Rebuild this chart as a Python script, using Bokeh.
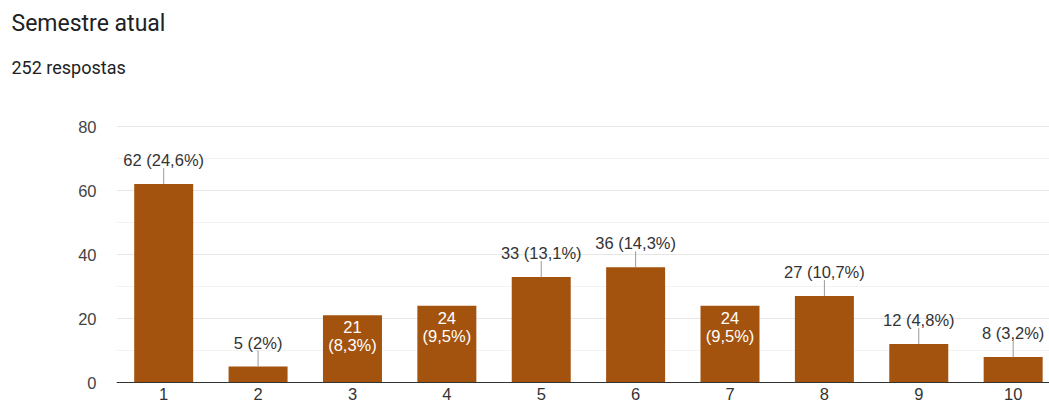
from bokeh.plotting import figure
from bokeh.models import ColumnDataSource, Range1d, FixedTicker, Span, Title
from bokeh.core.properties import value
from bokeh.embed import file_html
from bokeh.resources import INLINE

categories = [1, 2, 3, 4, 5, 6, 7, 8, 9, 10]
counts = [62, 5, 21, 24, 33, 36, 24, 27, 12, 8]
percents = ["24,6%", "2%", "8,3%", "9,5%", "13,1%", "14,3%", "9,5%", "10,7%", "4,8%", "3,2%"]
inside = [False, False, True, True, False, False, True, False, False, False]
y_ticks = [0, 20, 40, 60, 80]
y_minor = [10, 30, 50, 70]

BAR = "#a3530e"
FONT = "Liberation Sans"
FS = "16.5px"

p = figure(width=1049, height=406, output_backend="svg", toolbar_location=None,
           x_range=Range1d(0.5, 10.385), y_range=Range1d(-7.5, 88.125),
           min_border_left=116, min_border_right=0, min_border_bottom=0, min_border_top=100)
p.outline_line_color = None
p.background_fill_color = "white"
p.border_fill_color = "white"

# spacer between subtitle and plot frame
p.add_layout(Title(text=" ", text_font_size="6px", standoff=0, offset=-105), "above")
p.add_layout(Title(text="252 respostas", text_font="Roboto", text_font_size="18px",
                   text_color="#202124", text_font_style="normal", offset=-105, standoff=29), "above")
p.add_layout(Title(text="Semestre atual", text_font="Roboto", text_font_size="23px",
                   text_color="#202124", text_font_style="normal", offset=-105, standoff=8), "above")

p.xaxis.visible = False
p.xgrid.grid_line_color = None
p.yaxis.ticker = FixedTicker(ticks=y_ticks, minor_ticks=y_minor)
p.yaxis.axis_line_color = None
p.yaxis.major_tick_line_color = None
p.yaxis.minor_tick_line_color = None
p.yaxis.major_label_standoff = 14
p.yaxis.major_label_text_font = FONT
p.yaxis.major_label_text_font_size = FS
p.yaxis.major_label_text_color = "#444444"
p.ygrid.grid_line_color = "#e6e6e6"
p.ygrid.minor_grid_line_color = "#f3f3f3"

src = ColumnDataSource(dict(
    x=categories, top=counts,
    lab_out=[f"{c} ({q})" if not i else "" for c, q, i in zip(counts, percents, inside)],
    lab_in1=[str(c) if i else "" for c, i in zip(counts, inside)],
    lab_in2=[f"({q})" if i else "" for q, i in zip(percents, inside)],
    line_top=[c + 5 if not i else c for c, i in zip(counts, inside)],
    xlab=[str(c) for c in categories],
    zero=[0] * len(categories),
))

p.vbar(x="x", top="top", width=0.625, bottom=0, source=src, fill_color=BAR, line_color=None)
p.add_layout(Span(location=0, dimension="width", line_color="#333333", line_width=1))

p.segment(x0="x", y0="top", x1="x", y1="line_top", source=src, line_color="#999999", line_width=1)
p.text(x="x", y="top", text="lab_out", source=src, y_offset=-24, text_align="center",
       text_baseline="middle", text_font=value(FONT), text_font_size=FS, text_color="#333333")
p.text(x="x", y="top", text="lab_in1", source=src, y_offset=12, text_align="center",
       text_baseline="middle", text_font=value(FONT), text_font_size=FS, text_color="white")
p.text(x="x", y="top", text="lab_in2", source=src, y_offset=30, text_align="center",
       text_baseline="middle", text_font=value(FONT), text_font_size=FS, text_color="white")
p.text(x="x", y="zero", text="xlab", source=src, y_offset=5, text_align="center",
       text_baseline="top", text_font=value(FONT), text_font_size=FS, text_color="#333333")

open("out.html", "w").write(file_html(p, INLINE))
